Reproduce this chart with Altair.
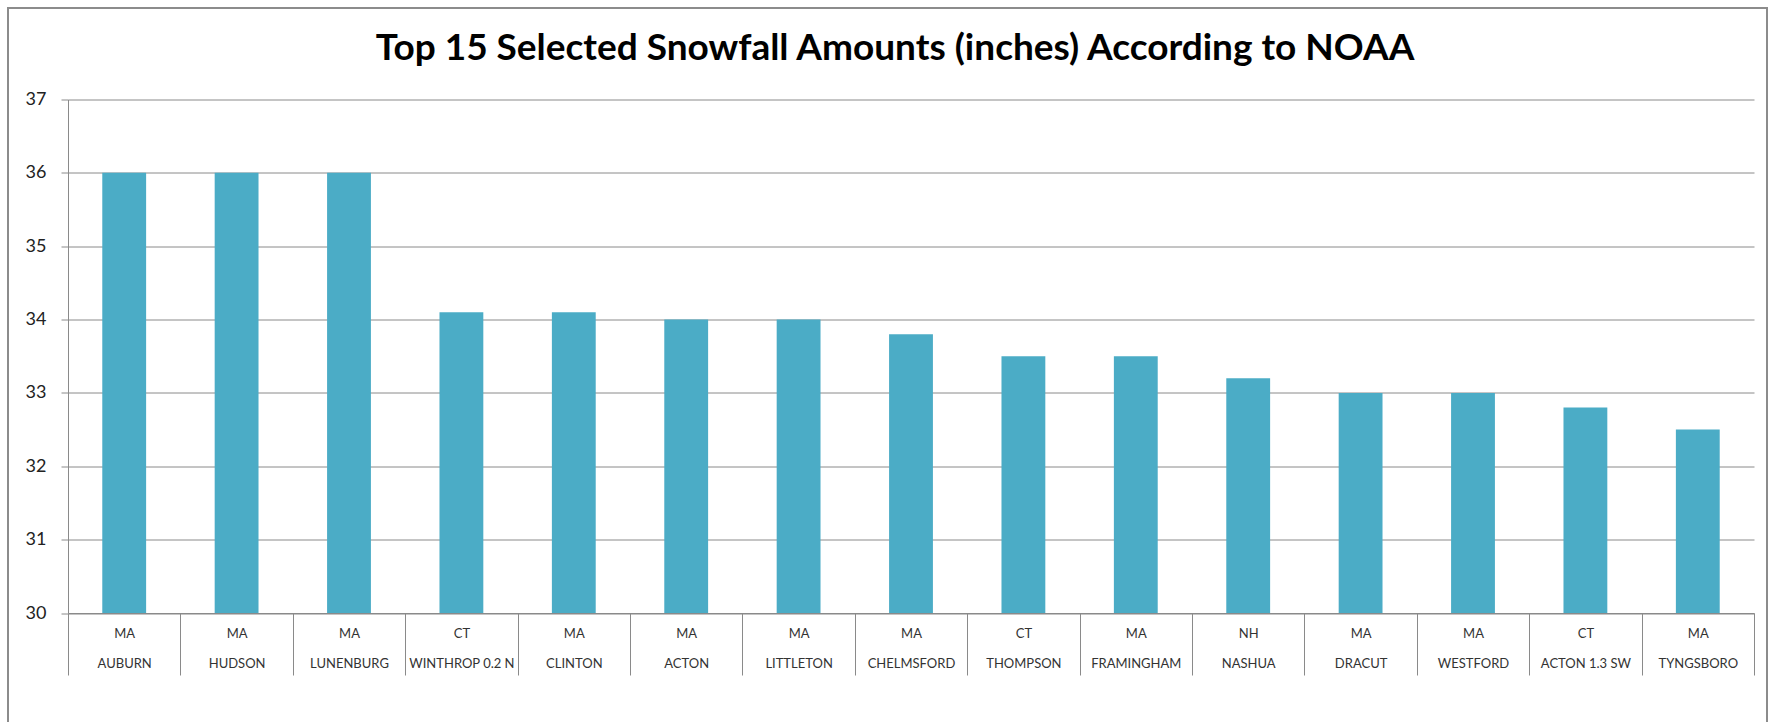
import altair as alt
import pandas as pd

# Top 15 snowfall reports (inches), NOAA
states = ["MA", "MA", "MA", "CT", "MA", "MA", "MA", "MA", "CT", "MA", "NH", "MA", "MA", "CT", "MA"]
towns = ["AUBURN", "HUDSON", "LUNENBURG", "WINTHROP 0.2 N", "CLINTON", "ACTON", "LITTLETON",
         "CHELMSFORD", "THOMPSON", "FRAMINGHAM", "NASHUA", "DRACUT", "WESTFORD", "ACTON 1.3 SW",
         "TYNGSBORO"]
snowfall = [36, 36, 36, 34.1, 34.1, 34, 34, 33.8, 33.5, 33.5, 33.2, 33, 33, 32.8, 32.5]
y_ticks = [30, 31, 32, 33, 34, 35, 36, 37]
y_min, y_max = 30, 37

df = pd.DataFrame({"state": states, "town": towns, "snow": snowfall})
df["site"] = df["state"] + "|" + df["town"]
site_order = list(df["site"])

GRAY = "#8a8a8a"
BAR = "#4BACC6"

bars = alt.Chart(df).mark_bar(color=BAR, width=alt.RelativeBandSize(0.39)).encode(
    x=alt.X(
        "site:N",
        sort=site_order,
        scale=alt.Scale(paddingInner=0, paddingOuter=0),
        axis=alt.Axis(
            title=None,
            labelAngle=0,
            labelExpr="datum.value ? split(datum.value, '|') : ''",
            labelBaseline="top",
            labelLineHeight=30,
            labelPadding=-48,
            labelFont="Lato",
            labelFontSize=13,
            labelColor="#333333",
            tickBand="extent",
            tickSize=62,
            tickColor=GRAY,
            domainColor=GRAY,
            grid=False,
        ),
    ),
    y=alt.Y(
        "snow:Q",
        scale=alt.Scale(domain=[y_min, y_max], nice=False, zero=False),
        axis=alt.Axis(
            title=None,
            values=y_ticks,
            grid=True,
            gridColor=GRAY,
            gridWidth=1,
            domainColor=GRAY,
            tickColor=GRAY,
            tickSize=7,
            labelPadding=15,
            labelFont="Lato",
            labelFontSize=18,
            labelColor="#222222",
        ),
    ),
    y2=alt.datum(y_min),
)

# outer frame around the whole chart
frame = alt.Chart(df).mark_rect(fill="transparent", stroke="#8c8c8c", strokeWidth=1.5).encode(
    x=alt.value(-60), x2=alt.value(1699), y=alt.value(-91.5), y2=alt.value(640)
)

chart = alt.layer(frame, bars).properties(
    width=1686,
    height=513.5,
    padding={"left": 68, "top": 99.5, "right": 23, "bottom": 108.5},
    autosize=alt.AutoSizeParams(type="none"),
    background="white",
    title=alt.TitleParams(
        "Top 15 Selected Snowfall Amounts (inches) According to NOAA",
        font="Lato",
        fontSize=37,
        fontWeight="bold",
        color="#000000",
        anchor="middle",
        baseline="bottom",
        offset=-98,
        dx=-16,
    ),
).configure_view(stroke=None)

chart.save("out.html", embed_options={"renderer": "svg", "actions": False})
